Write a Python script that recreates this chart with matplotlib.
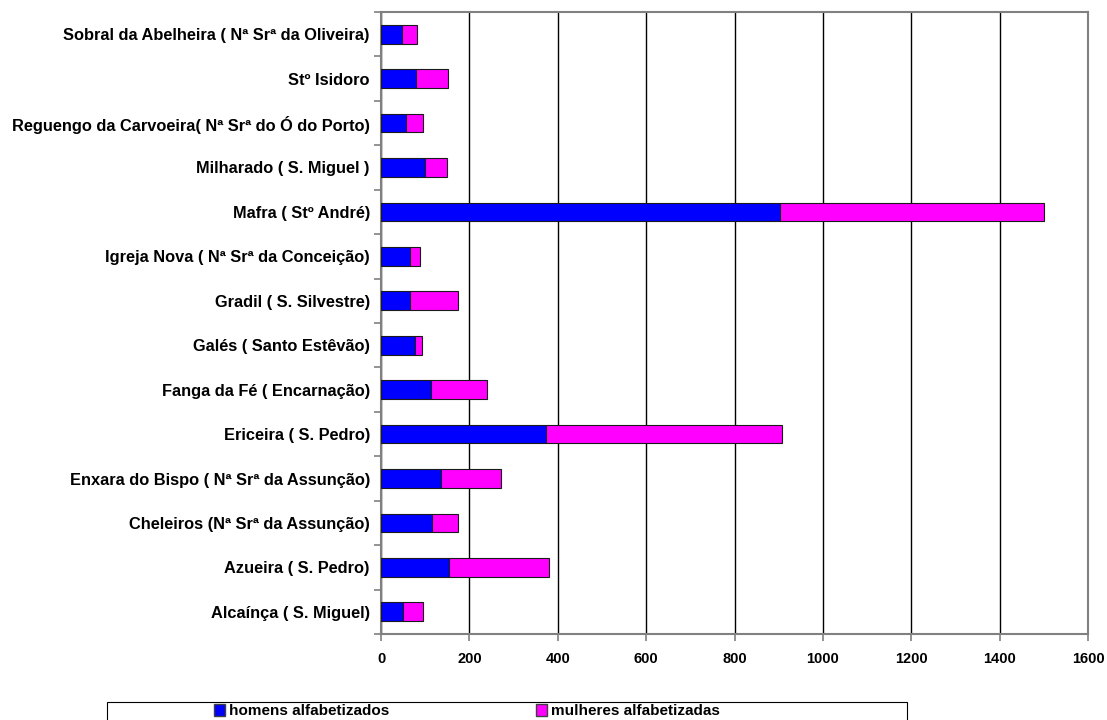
import numpy as np
import matplotlib
matplotlib.use('Agg')
from matplotlib import pyplot as plt
from matplotlib.patches import Patch, Rectangle

plt.rcParams['font.family'] = ['Liberation Sans', 'DejaVu Sans']
plt.rcParams['font.weight'] = 'bold'

# categories, bottom to top
freguesias = [
    'Alcaínça ( S. Miguel)',
    'Azueira ( S. Pedro)',
    'Cheleiros (Nª Srª da Assunção)',
    'Enxara do Bispo ( Nª Srª da Assunção)',
    'Ericeira ( S. Pedro)',
    'Fanga da Fé ( Encarnação)',
    'Galés ( Santo Estêvão)',
    'Gradil ( S. Silvestre)',
    'Igreja Nova ( Nª Srª da Conceição)',
    'Mafra ( Stº André)',
    'Milharado ( S. Miguel )',
    'Reguengo da Carvoeira( Nª Srª do Ó do Porto)',
    'Stº Isidoro',
    'Sobral da Abelheira ( Nª Srª da Oliveira)',
]
homens = [50, 155, 116, 136, 373, 114, 78, 66, 66, 903, 100, 56, 79, 47]
mulheres = [44, 225, 58, 136, 535, 126, 14, 108, 23, 597, 50, 38, 73, 35]
xticks = [0, 200, 400, 600, 800, 1000, 1200, 1400, 1600]

W, H = 1107, 720
fig = plt.figure(figsize=(W / 100, H / 100), dpi=100)
ax = fig.add_axes([381 / W, 1 - 634 / H, (1088 - 381) / W, (634 - 12) / H])

y = np.arange(len(freguesias))
h = 0.42
ax.barh(y, homens, height=h, color='#0000FF', edgecolor='#1a1a1a', linewidth=0.8,
        label='homens alfabetizados', zorder=3)
ax.barh(y, mulheres, left=homens, height=h, color='#FF00FF', edgecolor='#1a1a1a',
        linewidth=0.8, label='mulheres alfabetizadas', zorder=3)

ax.set_xlim(0, 1600)
ax.set_ylim(-0.5, len(freguesias) - 0.5)
ax.set_xticks(xticks)
ax.set_xticklabels([str(t) for t in xticks], fontsize=10.5, fontweight='bold')
ax.set_yticks(y)
ax.set_yticklabels(freguesias, fontsize=11.8, fontweight='bold')
ax.set_yticks(np.arange(-0.5, len(freguesias), 1), minor=True)
ax.tick_params(axis='y', which='major', length=0, pad=8)
ax.tick_params(axis='y', which='minor', length=5, color='#808080', width=1.2)
ax.tick_params(axis='x', length=5, color='#808080', width=1.2, pad=8)

ax.grid(axis='x', color='black', linewidth=1, zorder=0)
for s in ax.spines.values():
    s.set_color('#808080')
    s.set_linewidth(1.5)

# legend box across the bottom
fig.patches.append(Rectangle((107 / W, -0.01), 800 / W, 0.01 + (720 - 702) / H,
                             transform=fig.transFigure, facecolor='white',
                             edgecolor='black', linewidth=0.8))
names = ['homens alfabetizados', 'mulheres alfabetizadas']
cols = ['#0000FF', '#FF00FF']
xpos = [214, 536]
for name, c, xp in zip(names, cols, xpos):
    fig.legend(handles=[Patch(facecolor=c, edgecolor='#404040', label=name)],
               loc='center left', bbox_to_anchor=(xp / W, 1 - 711 / H),
               frameon=False, borderaxespad=0, borderpad=0,
               handlelength=0.7, handleheight=0.9, handletextpad=0.3,
               prop={'size': 11, 'weight': 'bold'})

fig.savefig('out.png', dpi=100)
